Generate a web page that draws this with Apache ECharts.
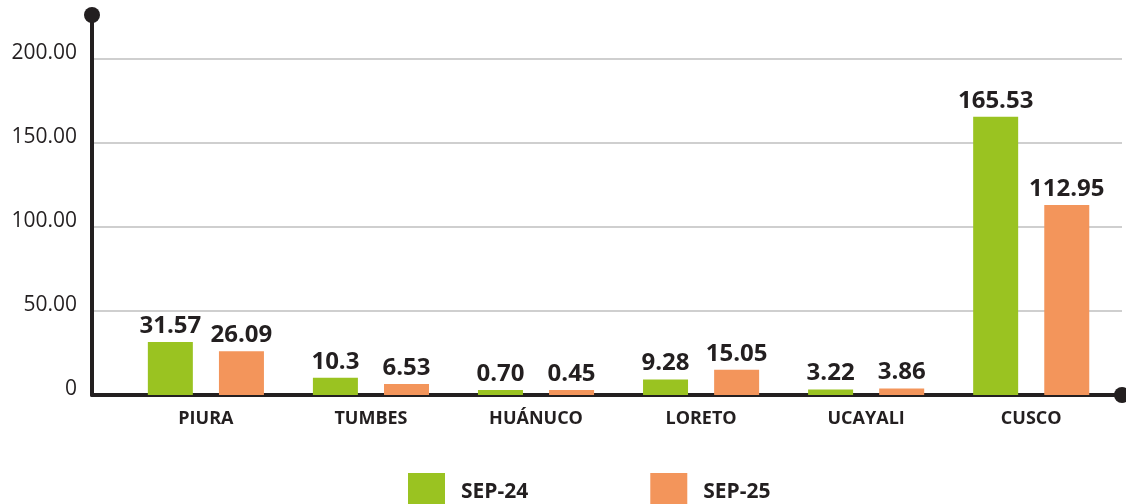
<!DOCTYPE html>
<html>
<head>
<meta charset="utf-8">
<script src="https://cdn.jsdelivr.net/npm/echarts@6/dist/echarts.min.js"></script>
<style>
  html, body { margin: 0; padding: 0; background: #ffffff; }
  #chart { width: 1126px; height: 504px; }
</style>
</head>
<body>
<div id="chart"></div>
<script>
var categories = ['PIURA', 'TUMBES', 'HUÁNUCO', 'LORETO', 'UCAYALI', 'CUSCO'];
var sep24 = [31.57, 10.3, 0.70, 9.28, 3.22, 165.53];
var sep25 = [26.09, 6.53, 0.45, 15.05, 3.86, 112.95];
var sep24Labels = ['31.57', '10.3', '0.70', '9.28', '3.22', '165.53'];
var sep25Labels = ['26.09', '6.53', '0.45', '15.05', '3.86', '112.95'];
var yTickLabels = ['0', '50.00', '100.00', '150.00', '200.00'];
var seriesNames = ['SEP-24', 'SEP-25'];

var ink = '#231f20';
var font = "'Open Sans', 'Noto Sans', sans-serif";

// bars sit on a value axis so the y axis line can start left of the first slot
var toPoints = function (values) {
  return values.map(function (v, i) { return [i, v]; });
};

var barLabel = function (texts) {
  return {
    show: true,
    position: 'top',
    distance: 4,
    fontFamily: font,
    fontSize: 24,
    fontWeight: 'bold',
    color: ink,
    formatter: function (p) { return texts[p.dataIndex]; }
  };
};

var chart = echarts.init(document.getElementById('chart'));
chart.setOption({
  animation: false,
  backgroundColor: '#ffffff',
  textStyle: { fontFamily: font },
  grid: { left: 92, right: 4, top: 15, bottom: 109, containLabel: false },
  legend: {
    data: seriesNames,
    left: 403,
    top: 468,
    icon: 'rect',
    itemWidth: 37,
    itemHeight: 38,
    itemGap: 122,
    textStyle: { fontFamily: font, fontSize: 21, fontWeight: 'bold', color: ink, padding: [0, 0, 0, 11] }
  },
  xAxis: {
    type: 'value',
    min: -0.69,
    max: 5.55,
    splitLine: { show: false },
    axisTick: { show: false },
    axisLine: {
      show: true,
      onZero: false,
      lineStyle: { color: ink, width: 4 },
      symbol: ['none', 'circle'],
      symbolSize: [16, 16]
    },
    axisLabel: {
      customValues: categories.map(function (c, i) { return i; }),
      formatter: function (v) { return categories[v]; },
      fontFamily: font,
      fontSize: 18,
      fontWeight: 'bold',
      color: ink,
      margin: 15
    }
  },
  yAxis: {
    type: 'value',
    min: 0,
    max: 226,
    interval: 50,
    axisTick: { show: false },
    axisLine: {
      show: true,
      onZero: false,
      lineStyle: { color: ink, width: 4 },
      symbol: ['none', 'circle'],
      symbolSize: [16, 16]
    },
    splitLine: {
      show: true,
      showMinLine: false,
      showMaxLine: false,
      lineStyle: { color: '#cfcfcf', width: 2 }
    },
    axisLabel: {
      showMaxLabel: false,
      formatter: function (v) { return yTickLabels[v / 50]; },
      fontFamily: font,
      fontSize: 21,
      color: ink,
      margin: 15,
      verticalAlign: 'bottom',
      lineHeight: 12
    }
  },
  series: [
    {
      name: seriesNames[0],
      type: 'bar',
      data: toPoints(sep24),
      barWidth: 45,
      barGap: '58%',
      barMinHeight: 5,
      itemStyle: { color: '#9ac321' },
      label: barLabel(sep24Labels)
    },
    {
      name: seriesNames[1],
      type: 'bar',
      data: toPoints(sep25),
      barWidth: 45,
      barGap: '58%',
      barMinHeight: 5,
      itemStyle: { color: '#f3955b' },
      label: barLabel(sep25Labels)
    }
  ]
});
</script>
</body>
</html>
